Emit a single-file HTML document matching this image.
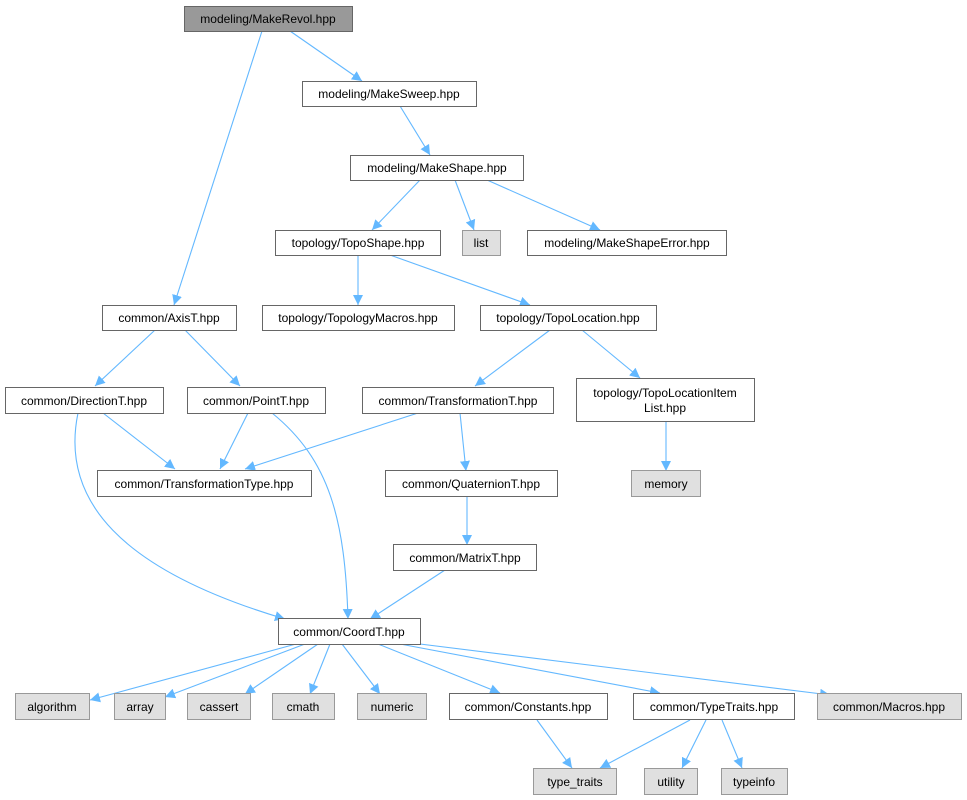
<!DOCTYPE html>
<html><head><meta charset="utf-8"><style>
html,body{margin:0;padding:0;background:#fff;}
svg{display:block;}
text{font-family:"Liberation Sans",Arial,sans-serif;font-size:12px;fill:#000;text-anchor:middle;}
</style></head><body>
<svg width="967" height="800" viewBox="0 0 967 800" xmlns="http://www.w3.org/2000/svg">
<defs><marker id="a" viewBox="0 0 10 10" refX="10" refY="5" markerWidth="10" markerHeight="10" markerUnits="userSpaceOnUse" orient="auto"><path d="M0,0 L10,5 L0,10 z" fill="#63b8ff"/></marker></defs>
<g stroke="#63b8ff" stroke-width="1.1" fill="none" marker-end="url(#a)">
<path d="M262,31 L174,305"/>
<path d="M290,31 L362,81"/>
<path d="M400,106 L430,155"/>
<path d="M420,180 L372,230"/>
<path d="M455,180 L474,230"/>
<path d="M487,180 L600,230"/>
<path d="M358,255 L358,305"/>
<path d="M390,255 L530,305"/>
<path d="M155,330 L95,386"/>
<path d="M185,330 L240,386"/>
<path d="M550,330 L475,386"/>
<path d="M582,330 L640,378"/>
<path d="M666,421 L666,471"/>
<path d="M103,413 L175,469"/>
<path d="M248,413 L220,469"/>
<path d="M418,413 L245,469"/>
<path d="M460,413 L466,471"/>
<path d="M467,496 L467,545"/>
<path d="M445,570 L370,619"/>
<path d="M78,413 C60,500 120,570 285,619"/>
<path d="M272,413 C330,460 345,520 348,619"/>
<path d="M296,644 L90,700"/>
<path d="M305,644 L165,697"/>
<path d="M318,644 L245,694"/>
<path d="M330,644 L310,694"/>
<path d="M342,644 L380,694"/>
<path d="M378,644 L500,693"/>
<path d="M400,644 L660,693"/>
<path d="M420,644 L830,695"/>
<path d="M537,720 L572,768"/>
<path d="M690,720 L600,768"/>
<path d="M706,720 L682,768"/>
<path d="M722,720 L742,768"/>
</g>
<g stroke-width="1">
<rect x="184.5" y="6.5" width="168" height="25" fill="#999" stroke="#666"/>
<rect x="302.5" y="81.5" width="174" height="25" fill="#fff" stroke="#666"/>
<rect x="350.5" y="155.5" width="173" height="25" fill="#fff" stroke="#666"/>
<rect x="275.5" y="230.5" width="165" height="25" fill="#fff" stroke="#666"/>
<rect x="462.5" y="230.5" width="38" height="25" fill="#e0e0e0" stroke="#999"/>
<rect x="527.5" y="230.5" width="199" height="25" fill="#fff" stroke="#666"/>
<rect x="102.5" y="305.5" width="134" height="25" fill="#fff" stroke="#666"/>
<rect x="262.5" y="305.5" width="192" height="25" fill="#fff" stroke="#666"/>
<rect x="480.5" y="305.5" width="176" height="25" fill="#fff" stroke="#666"/>
<rect x="5.5" y="387.5" width="158" height="26" fill="#fff" stroke="#666"/>
<rect x="187.5" y="387.5" width="138" height="26" fill="#fff" stroke="#666"/>
<rect x="362.5" y="387.5" width="191" height="26" fill="#fff" stroke="#666"/>
<rect x="576.5" y="378.5" width="178" height="43" fill="#fff" stroke="#666"/>
<rect x="97.5" y="470.5" width="214" height="26" fill="#fff" stroke="#666"/>
<rect x="385.5" y="470.5" width="172" height="26" fill="#fff" stroke="#666"/>
<rect x="631.5" y="470.5" width="69" height="26" fill="#e0e0e0" stroke="#999"/>
<rect x="393.5" y="544.5" width="143" height="26" fill="#fff" stroke="#666"/>
<rect x="278.5" y="618.5" width="142" height="26" fill="#fff" stroke="#666"/>
<rect x="15.5" y="693.5" width="74" height="26" fill="#e0e0e0" stroke="#999"/>
<rect x="114.5" y="693.5" width="51" height="26" fill="#e0e0e0" stroke="#999"/>
<rect x="187.5" y="693.5" width="63" height="26" fill="#e0e0e0" stroke="#999"/>
<rect x="272.5" y="693.5" width="62" height="26" fill="#e0e0e0" stroke="#999"/>
<rect x="357.5" y="693.5" width="69" height="26" fill="#e0e0e0" stroke="#999"/>
<rect x="449.5" y="693.5" width="158" height="26" fill="#fff" stroke="#666"/>
<rect x="633.5" y="693.5" width="161" height="26" fill="#fff" stroke="#666"/>
<rect x="817.5" y="693.5" width="144" height="26" fill="#e0e0e0" stroke="#999"/>
<rect x="533.5" y="768.5" width="83" height="26" fill="#e0e0e0" stroke="#999"/>
<rect x="644.5" y="768.5" width="53" height="26" fill="#e0e0e0" stroke="#999"/>
<rect x="721.5" y="768.5" width="66" height="26" fill="#e0e0e0" stroke="#999"/>
</g>
<text x="268" y="23">modeling/MakeRevol.hpp</text>
<text x="389" y="98">modeling/MakeSweep.hpp</text>
<text x="437" y="172">modeling/MakeShape.hpp</text>
<text x="358" y="247">topology/TopoShape.hpp</text>
<text x="481" y="247">list</text>
<text x="627" y="247">modeling/MakeShapeError.hpp</text>
<text x="169" y="322">common/AxisT.hpp</text>
<text x="358" y="322">topology/TopologyMacros.hpp</text>
<text x="568" y="322">topology/TopoLocation.hpp</text>
<text x="84" y="405">common/DirectionT.hpp</text>
<text x="256" y="405">common/PointT.hpp</text>
<text x="458" y="405">common/TransformationT.hpp</text>
<text x="665" y="397">topology/TopoLocationItem</text>
<text x="665" y="412">List.hpp</text>
<text x="204" y="488">common/TransformationType.hpp</text>
<text x="471" y="488">common/QuaternionT.hpp</text>
<text x="666" y="488">memory</text>
<text x="465" y="562">common/MatrixT.hpp</text>
<text x="349" y="636">common/CoordT.hpp</text>
<text x="52" y="711">algorithm</text>
<text x="140" y="711">array</text>
<text x="219" y="711">cassert</text>
<text x="303" y="711">cmath</text>
<text x="392" y="711">numeric</text>
<text x="528" y="711">common/Constants.hpp</text>
<text x="714" y="711">common/TypeTraits.hpp</text>
<text x="889" y="711">common/Macros.hpp</text>
<text x="575" y="786">type_traits</text>
<text x="671" y="786">utility</text>
<text x="754" y="786">typeinfo</text>
</svg>
</body></html>
